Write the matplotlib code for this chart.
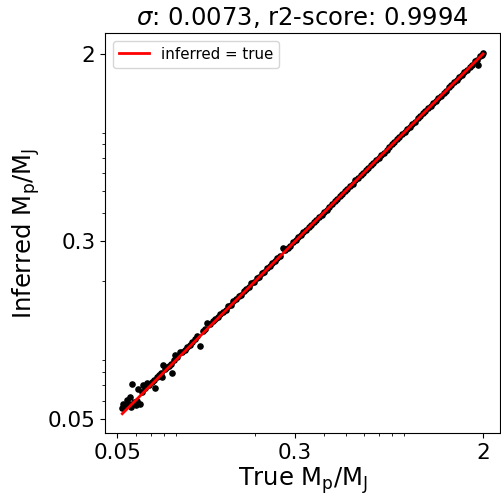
import matplotlib
matplotlib.use('Agg')
import matplotlib.pyplot as plt

# true vs inferred planet mass (M_J)
true_mass = [
    0.0525, 0.0531, 0.0540, 0.0553, 0.0560, 0.0570, 0.0575, 0.0581, 0.0590, 0.0600,
    0.0610, 0.0618, 0.0630, 0.0640, 0.0650, 0.0662, 0.0676, 0.0690, 0.0705, 0.0720,
    0.0733, 0.0748, 0.0760, 0.0775, 0.0787, 0.0794, 0.0810, 0.0825, 0.0840, 0.0855,
    0.0870, 0.0885, 0.0897, 0.0915, 0.0943, 0.0960, 0.0985, 0.1010, 0.1035, 0.1060,
    0.109, 0.112, 0.1154, 0.118, 0.121, 0.124, 0.127, 0.131, 0.134, 0.138,
    0.141, 0.145, 0.149, 0.153, 0.157, 0.161, 0.165, 0.170, 0.174, 0.179,
    0.183, 0.188, 0.193, 0.198, 0.204, 0.209, 0.215, 0.220, 0.226, 0.232,
    0.238, 0.245, 0.251, 0.258, 0.266, 0.272, 0.279, 0.286, 0.294, 0.302,
    0.310, 0.318, 0.326, 0.335, 0.344, 0.353, 0.362, 0.372, 0.382, 0.392,
    0.402, 0.413, 0.424, 0.435, 0.447, 0.459, 0.471, 0.483, 0.496, 0.509,
    0.523, 0.537, 0.551, 0.566, 0.581, 0.596, 0.612, 0.628, 0.645, 0.662,
    0.680, 0.698, 0.716, 0.735, 0.755, 0.775, 0.795, 0.816, 0.838, 0.860,
    0.883, 0.907, 0.931, 0.955, 0.981, 1.007, 1.033, 1.061, 1.089, 1.118,
    1.148, 1.178, 1.209, 1.241, 1.274, 1.308, 1.343, 1.379, 1.415, 1.453,
    1.491, 1.531, 1.572, 1.613, 1.656, 1.700, 1.745, 1.792, 1.840, 1.888,
    1.900, 1.938, 1.970, 2.000]
inferred_mass = [
    0.0556, 0.0582, 0.0565, 0.0606, 0.0580, 0.0619, 0.0560, 0.0706, 0.0590, 0.0571,
    0.0600, 0.0671, 0.0582, 0.0655, 0.0699, 0.0680, 0.0713, 0.0700, 0.0722, 0.0735,
    0.0678, 0.0760, 0.0780, 0.0790, 0.0758, 0.0856, 0.0822, 0.0840, 0.0850, 0.0868,
    0.0789, 0.0900, 0.0947, 0.0930, 0.0976, 0.0978, 0.1000, 0.1030, 0.1050, 0.1080,
    0.112, 0.115, 0.1038, 0.121, 0.124, 0.131, 0.130, 0.134, 0.137, 0.139,
    0.144, 0.147, 0.150, 0.156, 0.158, 0.164, 0.167, 0.172, 0.175, 0.181,
    0.186, 0.189, 0.196, 0.199, 0.207, 0.210, 0.218, 0.221, 0.229, 0.233,
    0.241, 0.246, 0.254, 0.260, 0.2805, 0.274, 0.281, 0.287, 0.297, 0.303,
    0.313, 0.319, 0.329, 0.336, 0.347, 0.354, 0.366, 0.373, 0.385, 0.393,
    0.406, 0.414, 0.427, 0.436, 0.451, 0.460, 0.475, 0.484, 0.500, 0.510,
    0.527, 0.538, 0.556, 0.567, 0.586, 0.597, 0.617, 0.629, 0.650, 0.663,
    0.686, 0.699, 0.722, 0.736, 0.760, 0.776, 0.801, 0.817, 0.845, 0.861,
    0.890, 0.908, 0.938, 0.956, 0.988, 1.008, 1.041, 1.062, 1.097, 1.119,
    1.157, 1.179, 1.218, 1.242, 1.283, 1.309, 1.353, 1.380, 1.425, 1.454,
    1.502, 1.532, 1.583, 1.614, 1.668, 1.701, 1.757, 1.793, 1.852, 1.889,
    1.795, 1.950, 1.972, 2.010]

ticks = [0.05, 0.3, 2]
tick_labels = ['0.05', '0.3', '2']
line_ends = [min(true_mass), max(true_mass)]

fig = plt.figure(figsize=(5.01, 4.95), dpi=100)
ax = fig.add_axes([0.2096, 0.1253, 0.789, 0.808])

ax.scatter(true_mass, inferred_mass, s=14, color='black', zorder=2)
ax.plot(line_ends, line_ends, color='red', lw=2, label='inferred = true', zorder=3)

ax.set_xscale('log')
ax.set_yscale('log')
ax.set_xlim(0.0441, 2.38)
ax.set_ylim(0.0432, 2.47)
ax.set_xticks(ticks)
ax.set_xticklabels(tick_labels)
ax.set_yticks(ticks)
ax.set_yticklabels(tick_labels)
ax.tick_params(axis='both', which='major', labelsize=15.5)

ax.set_xlabel(r'True $\mathrm{M_p/M_J}$', fontsize=17.5, labelpad=2)
ax.set_ylabel(r'Inferred $\mathrm{M_p/M_J}$', fontsize=17.5)
ax.set_title(r'$\sigma$: 0.0073, r2-score: 0.9994', fontsize=17.5)
ax.legend(loc='upper left', fontsize=10.8)

fig.savefig('out.png', dpi=100)
